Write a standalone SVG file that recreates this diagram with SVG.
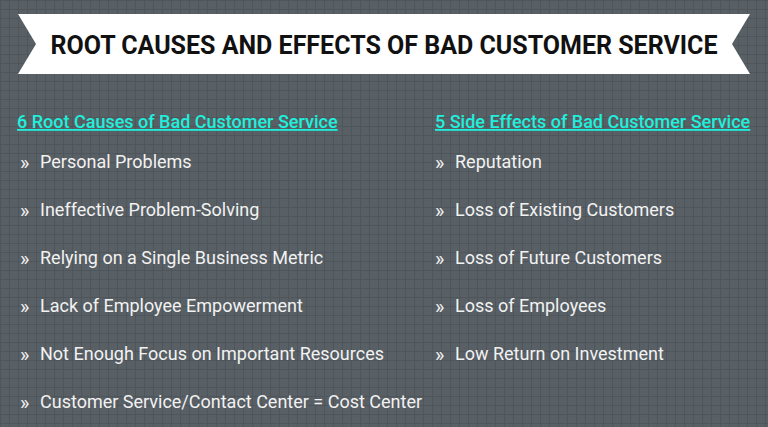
<svg xmlns="http://www.w3.org/2000/svg" width="768" height="427" viewBox="0 0 768 427">
<defs>
<pattern id="grid" width="9" height="9" patternUnits="userSpaceOnUse">
<rect width="9" height="9" fill="#585f65"/>
<path d="M0 0.5H9M0.5 0V9" stroke="#4f565b" stroke-width="1"/>
</pattern>
<style>
.h{font-family:Roboto,"Liberation Sans",sans-serif;font-size:18px;font-weight:500;fill:#1ff0dc;text-decoration:underline}
.i{font-family:Roboto,"Liberation Sans",sans-serif;font-size:18px;fill:#f2f2f2}
.b{font-family:Roboto,"Liberation Sans",sans-serif;font-size:20px;fill:#f2f2f2}
</style>
</defs>
<rect width="768" height="427" fill="url(#grid)"/>
<g id="banner">
<polygon points="18,14 750,14 732,44 750,74 18,74 36,44" fill="#fff"/>
<text x="384" y="54" text-anchor="middle" font-family="Roboto,'Liberation Sans',sans-serif" font-size="25" font-weight="700" fill="#111">ROOT CAUSES AND EFFECTS OF BAD CUSTOMER SERVICE</text>
</g>
<g id="causes">
<text class="h" x="17" y="128">6 Root Causes of Bad Customer Service</text>
<text class="b" x="20" y="170">»</text><text class="i" x="40" y="168">Personal Problems</text>
<text class="b" x="20" y="218">»</text><text class="i" x="40" y="216">Ineffective Problem-Solving</text>
<text class="b" x="20" y="266">»</text><text class="i" x="40" y="264">Relying on a Single Business Metric</text>
<text class="b" x="20" y="314">»</text><text class="i" x="40" y="312">Lack of Employee Empowerment</text>
<text class="b" x="20" y="362">»</text><text class="i" x="40" y="360">Not Enough Focus on Important Resources</text>
<text class="b" x="20" y="410">»</text><text class="i" x="40" y="408">Customer Service/Contact Center = Cost Center</text>
</g>
<g id="effects">
<text class="h" x="435" y="128">5 Side Effects of Bad Customer Service</text>
<text class="b" x="435" y="170">»</text><text class="i" x="455" y="168">Reputation</text>
<text class="b" x="435" y="218">»</text><text class="i" x="455" y="216">Loss of Existing Customers</text>
<text class="b" x="435" y="266">»</text><text class="i" x="455" y="264">Loss of Future Customers</text>
<text class="b" x="435" y="314">»</text><text class="i" x="455" y="312">Loss of Employees</text>
<text class="b" x="435" y="362">»</text><text class="i" x="455" y="360">Low Return on Investment</text>
</g>
<g id="connectors"/>
</svg>
